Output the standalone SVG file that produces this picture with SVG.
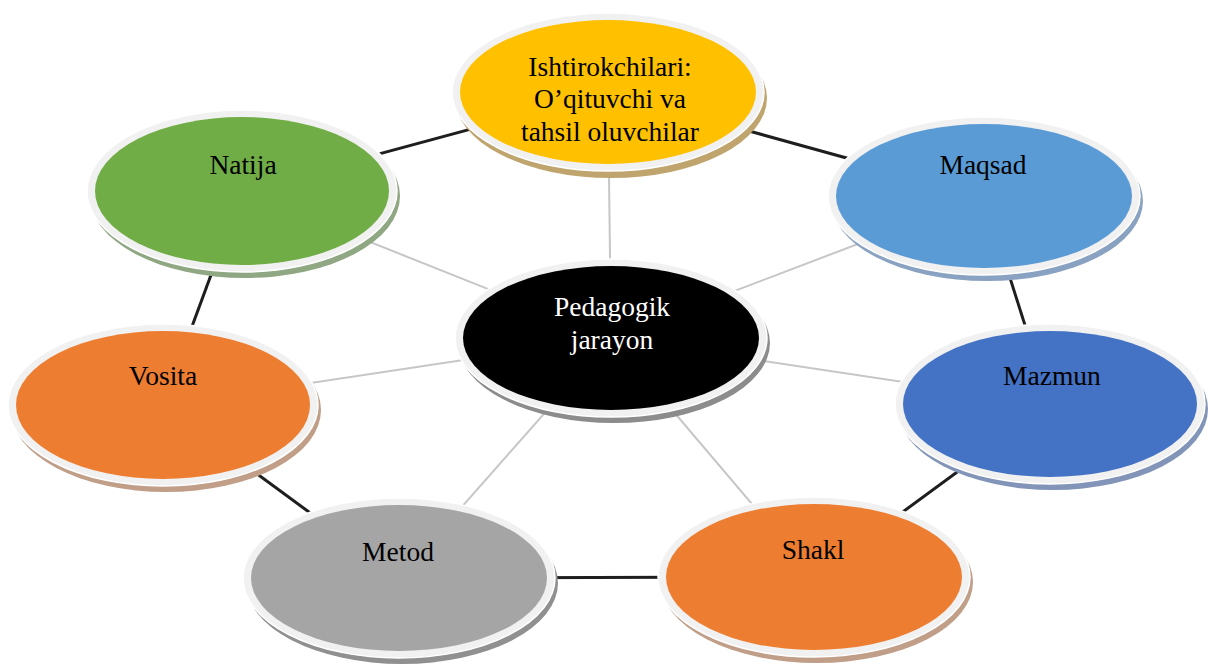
<svg xmlns="http://www.w3.org/2000/svg" width="1216" height="664" viewBox="0 0 1216 664">
<style>
.t{font-family:"Liberation Serif","Times New Roman",serif;font-size:27.5px;fill:#000;text-anchor:middle}
.w{fill:#fff}
.ring{fill:#f1f1f1;stroke:#ffffff;stroke-width:1.5}
.dark{stroke:#1e1e1e;stroke-width:3;fill:none}
.spoke{stroke:#c6c6c6;stroke-width:2;fill:none}
</style>
<rect width="1216" height="664" fill="#fff"/>
<g id="connectors">
<line class="spoke" x1="611" y1="338" x2="608" y2="92"/>
<line class="spoke" x1="611" y1="338" x2="984" y2="196"/>
<line class="spoke" x1="611" y1="338" x2="1050" y2="404"/>
<line class="spoke" x1="611" y1="338" x2="814" y2="577"/>
<line class="spoke" x1="611" y1="338" x2="399" y2="578"/>
<line class="spoke" x1="611" y1="338" x2="163" y2="405"/>
<line class="spoke" x1="611" y1="338" x2="242" y2="191"/>
<line class="dark" x1="608" y1="92" x2="984" y2="196"/>
<line class="dark" x1="984" y1="196" x2="1050" y2="404"/>
<line class="dark" x1="1050" y1="404" x2="814" y2="577"/>
<line class="dark" x1="814" y1="577" x2="399" y2="578"/>
<line class="dark" x1="399" y1="578" x2="163" y2="405"/>
<line class="dark" x1="163" y1="405" x2="242" y2="191"/>
<line class="dark" x1="242" y1="191" x2="608" y2="92"/>
</g>
<g id="node-ishtirokchilari">
<ellipse cx="611" cy="98" rx="156" ry="80" fill="#bfa46e"/>
<ellipse class="ring" cx="608" cy="92" rx="156" ry="79"/>
<ellipse cx="608" cy="92" rx="148" ry="72" fill="#FFC000"/>
<text class="t" x="610" y="76">Ishtirokchilari:</text>
<text class="t" x="610" y="108">O’qituvchi va</text>
<text class="t" x="610" y="141">tahsil oluvchilar</text>
</g>
<g id="node-maqsad">
<ellipse cx="987" cy="201" rx="156" ry="80" fill="#8aa2c2"/>
<ellipse class="ring" cx="984" cy="196" rx="156" ry="79"/>
<ellipse cx="984" cy="196" rx="148" ry="72" fill="#5B9BD5"/>
<text class="t" x="983" y="174">Maqsad</text>
</g>
<g id="node-mazmun">
<ellipse cx="1053" cy="409" rx="155" ry="81" fill="#8295b8"/>
<ellipse class="ring" cx="1050" cy="404" rx="155" ry="80"/>
<ellipse cx="1050" cy="404" rx="147" ry="73" fill="#4472C4"/>
<text class="t" x="1052" y="385">Mazmun</text>
</g>
<g id="node-shakl">
<ellipse cx="817" cy="582" rx="156" ry="81" fill="#c09e88"/>
<ellipse class="ring" cx="814" cy="577" rx="156" ry="80"/>
<ellipse cx="814" cy="577" rx="148" ry="73" fill="#ED7D31"/>
<text class="t" x="813" y="559">Shakl</text>
</g>
<g id="node-metod">
<ellipse cx="402" cy="583" rx="156" ry="81" fill="#909090"/>
<ellipse class="ring" cx="399" cy="578" rx="156" ry="80"/>
<ellipse cx="399" cy="578" rx="148" ry="73" fill="#A5A5A5"/>
<text class="t" x="398" y="561">Metod</text>
</g>
<g id="node-vosita">
<ellipse cx="166" cy="410" rx="155" ry="82" fill="#c09e88"/>
<ellipse class="ring" cx="163" cy="405" rx="155" ry="81"/>
<ellipse cx="163" cy="405" rx="147" ry="74" fill="#ED7D31"/>
<text class="t" x="163" y="385">Vosita</text>
</g>
<g id="node-natija">
<ellipse cx="245" cy="196" rx="155" ry="82" fill="#8fa782"/>
<ellipse class="ring" cx="242" cy="191" rx="155" ry="81"/>
<ellipse cx="242" cy="191" rx="147" ry="74" fill="#70AD47"/>
<text class="t" x="243" y="174">Natija</text>
</g>
<g id="node-pedagogik">
<ellipse cx="614" cy="343" rx="156" ry="80" fill="#8c8c8c"/>
<ellipse class="ring" cx="611" cy="338" rx="156" ry="79"/>
<ellipse cx="611" cy="338" rx="148" ry="72" fill="#000"/>
<text class="t w" x="612" y="316">Pedagogik</text>
<text class="t w" x="612" y="349">jarayon</text>
</g>
</svg>
